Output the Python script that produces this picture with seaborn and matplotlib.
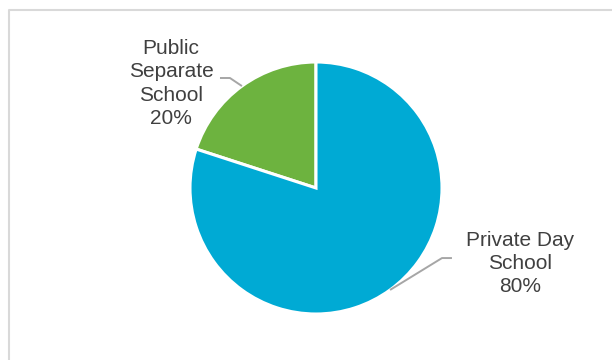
import numpy as np
import matplotlib
matplotlib.use("Agg")
import matplotlib.pyplot as plt
import seaborn as sns

categories = ["Public Separate School", "Private Day School"]
label_text = ["Public\nSeparate\nSchool", "Private Day\nSchool"]
values = [20, 80]
colors = ["#6DB33F", "#00AAD4"]

sns.set_theme(style="white")
plt.rcParams["font.family"] = ["Liberation Sans", "DejaVu Sans"]

W, H = 612, 360
fig = plt.figure(figsize=(W / 100, H / 100), dpi=100)
ax = fig.add_axes([0, 0, 1, 1])

cx, cy, r = 316, H - 188, 126
wedges, _ = ax.pie(values, colors=colors, startangle=90, counterclock=True,
                   center=(cx, cy), radius=r,
                   wedgeprops=dict(edgecolor="white", linewidth=2.2))
ax.set_xlim(0, W)
ax.set_ylim(0, H)
ax.set_aspect("equal")
ax.axis("off")

# label placement (relative to radius) and leader elbows
label_pos = [(-1.15, 0.83), (1.62, -0.60)]
elbow = [(-0.683, 0.873), (1.0, -0.556)]
text_end = [(-0.762, 0.873), (1.079, -0.556)]
total = sum(values)
for w, lab, v, lp, el, te in zip(wedges, label_text, values, label_pos, elbow, text_end):
    mid = np.deg2rad((w.theta1 + w.theta2) / 2)
    ex, ey = cx + r * np.cos(mid), cy + r * np.sin(mid)
    ax.plot([cx + te[0] * r, cx + el[0] * r, ex], [cy + te[1] * r, cy + el[1] * r, ey],
            color="#A6A6A6", lw=1.4, solid_capstyle="butt")
    ax.text(cx + lp[0] * r, cy + lp[1] * r, f"{lab}\n{round(v / total * 100)}%",
            ha="center", va="center", fontsize=15, color="#404040", linespacing=1.28)

# chart border
ax.plot([8.5, 8.5, W + 5], [-5, H - 9.5, H - 9.5], color="#D9D9D9", lw=1.5,
        clip_on=False)

fig.savefig("out.png", dpi=100)
